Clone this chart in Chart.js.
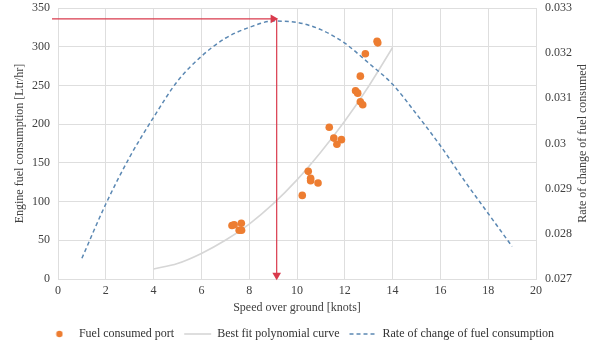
<!DOCTYPE html>
<html>
<head>
<meta charset="UTF-8">
<title>Fuel consumption vs speed</title>
<script src="https://cdn.jsdelivr.net/npm/chart.js"></script>
<style>
  html, body { margin: 0; padding: 0; background: #fff; }
  #wrap { width: 600px; height: 350px; }
</style>
</head>
<body>
<div id="wrap"><canvas id="chart"></canvas></div>
<script>
// measured points, port engine
const portSpeed = [7.28, 7.37, 7.67, 7.58, 7.68, 10.22, 10.47, 10.57, 10.57, 10.88, 11.35, 11.54, 11.86, 11.67, 12.45, 12.54, 12.65, 12.65, 12.75, 12.86, 13.35, 13.38];
const portFuel  = [69, 70, 72, 63, 63, 108, 139, 130, 127, 124, 196, 182, 180, 174, 243, 240, 262, 229, 225, 291, 307, 305];

// fitted curve
const fitSpeed = [4, 5, 6, 7, 8, 9, 10, 11, 12, 13, 14];
const fitFuel  = [13, 20, 33, 50, 71, 97, 128, 164, 204, 249, 299];

// rate of change (right axis)
const rateSpeed = [1, 2, 3, 4, 5, 6, 7, 8, 9, 10, 11, 12, 13, 14, 15, 16, 17, 18, 19];
const rateValue = [0.02746, 0.02866, 0.02970, 0.03058, 0.03138, 0.03193, 0.03233, 0.03257, 0.03271, 0.03268,
                   0.03252, 0.03222, 0.03178, 0.03131, 0.03065, 0.02995, 0.02918, 0.02845, 0.02772];

// red guide arrows (optimum speed)
const guideSpeed = [-0.25, 9.0];
const guideFuel  = [336, 336];
const dropSpeed  = [9.15, 9.15];
const dropFuel   = [336, 5];

const toXY = (xs, ys) => xs.map((x, i) => ({ x: x, y: ys[i] }));

const orange = '#ed7d31';
const grey = '#d6d6d6';
const blue = '#5b88b3';
const red = '#d93a4c';
const gridColor = '#dedede';

Chart.defaults.font.family = "'Liberation Serif', 'Times New Roman', serif";
Chart.defaults.font.size = 12;
Chart.defaults.color = '#404040';

// little dot used as legend marker for the scatter series
const dot = document.createElement('canvas');
dot.width = 8; dot.height = 8;
const dctx = dot.getContext('2d');
dctx.fillStyle = orange;
dctx.beginPath(); dctx.arc(4, 4, 3.2, 0, Math.PI * 2); dctx.fill();

// right axis title reads bottom-to-top like the left one
const rightTitle = {
  id: 'rightTitle',
  afterDraw(chart) {
    const s = chart.scales.y2, a = chart.chartArea, ctx = chart.ctx;
    ctx.save();
    ctx.translate(s.right - 17, (a.top + a.bottom) / 2);
    ctx.rotate(-Math.PI / 2);
    ctx.font = "12px 'Liberation Serif', serif";
    ctx.fillStyle = '#404040';
    ctx.textAlign = 'center';
    ctx.textBaseline = 'middle';
    ctx.fillText('Rate of change of fuel consumed', 0, 0);
    ctx.restore();
  }
};

// keep the vertical axes from reserving extra room above/below the plot
const fitVertical = w => s => { s.width = w; s.paddingTop = 7; s.paddingBottom = 7; };

new Chart(document.getElementById('chart'), {
  type: 'line',
  data: {
    datasets: [
      {
        type: 'scatter',
        label: 'Fuel consumed port',
        data: toXY(portSpeed, portFuel),
        backgroundColor: orange,
        borderColor: orange,
        pointRadius: 3.8,
        pointBorderWidth: 0,
        yAxisID: 'y',
        order: 1
      },
      {
        label: 'Best fit polynomial curve',
        data: toXY(fitSpeed, fitFuel),
        borderColor: grey,
        backgroundColor: grey,
        borderWidth: 1.6,
        pointRadius: 0,
        cubicInterpolationMode: 'monotone',
        yAxisID: 'y',
        order: 3
      },
      {
        label: 'Rate of change of fuel consumption',
        data: toXY(rateSpeed, rateValue),
        borderColor: blue,
        backgroundColor: blue,
        borderWidth: 1.5,
        borderDash: [4, 3],
        pointRadius: 0,
        cubicInterpolationMode: 'monotone',
        yAxisID: 'y2',
        order: 2
      },
      {
        label: 'guide',
        data: toXY(guideSpeed, guideFuel),
        borderColor: red,
        backgroundColor: red,
        borderWidth: 1.2,
        pointStyle: 'triangle',
        pointRadius: [0, 5],
        pointRotation: [0, 90],
        pointBorderWidth: 0,
        clip: false,
        yAxisID: 'y',
        order: 0
      },
      {
        label: 'drop',
        data: toXY(dropSpeed, dropFuel),
        borderColor: red,
        backgroundColor: red,
        borderWidth: 1.2,
        pointStyle: 'triangle',
        pointRadius: [0, 5],
        pointRotation: [0, 180],
        pointBorderWidth: 0,
        clip: false,
        yAxisID: 'y',
        order: 0
      }
    ]
  },
  options: {
    responsive: true,
    maintainAspectRatio: false,
    animation: false,
    layout: { padding: { top: 8, left: 0, right: 0, bottom: 0 } },
    plugins: {
      tooltip: { enabled: false },
      legend: {
        position: 'bottom',
        labels: {
          usePointStyle: true,
          pointStyleWidth: 27,
          padding: 10,
          color: '#333',
          generateLabels: chart => chart.data.datasets.slice(0, 3).map((ds, i) => ({
            text: ds.label,
            datasetIndex: i,
            hidden: false,
            fontColor: '#333',
            pointStyle: i === 0 ? dot : 'line',
            fillStyle: ds.backgroundColor,
            strokeStyle: ds.borderColor,
            lineWidth: ds.borderWidth || 1,
            lineDash: ds.borderDash || []
          }))
        }
      }
    },
    scales: {
      x: {
        type: 'linear',
        min: 0,
        max: 20,
        ticks: { stepSize: 2, padding: 5 },
        grid: { color: gridColor, drawTicks: false },
        border: { color: gridColor },
        title: { display: true, text: 'Speed over ground [knots]', padding: { top: 0, bottom: 3 } },
        afterFit: s => { s.height = 39; }
      },
      y: {
        position: 'left',
        min: 0,
        max: 350,
        ticks: { stepSize: 50, padding: 8 },
        grid: { color: gridColor, drawTicks: false },
        border: { color: gridColor },
        title: { display: true, text: 'Engine fuel consumption [Ltr/hr]', padding: { top: 13, bottom: 0 } },
        afterFit: fitVertical(58)
      },
      y2: {
        position: 'right',
        min: 0.027,
        max: 0.033,
        ticks: { stepSize: 0.001, padding: 9, callback: v => String(+v.toFixed(3)) },
        grid: { drawOnChartArea: false, drawTicks: false },
        border: { display: false },
        afterFit: fitVertical(64)
      }
    }
  },
  plugins: [rightTitle]
});
</script>
</body>
</html>
